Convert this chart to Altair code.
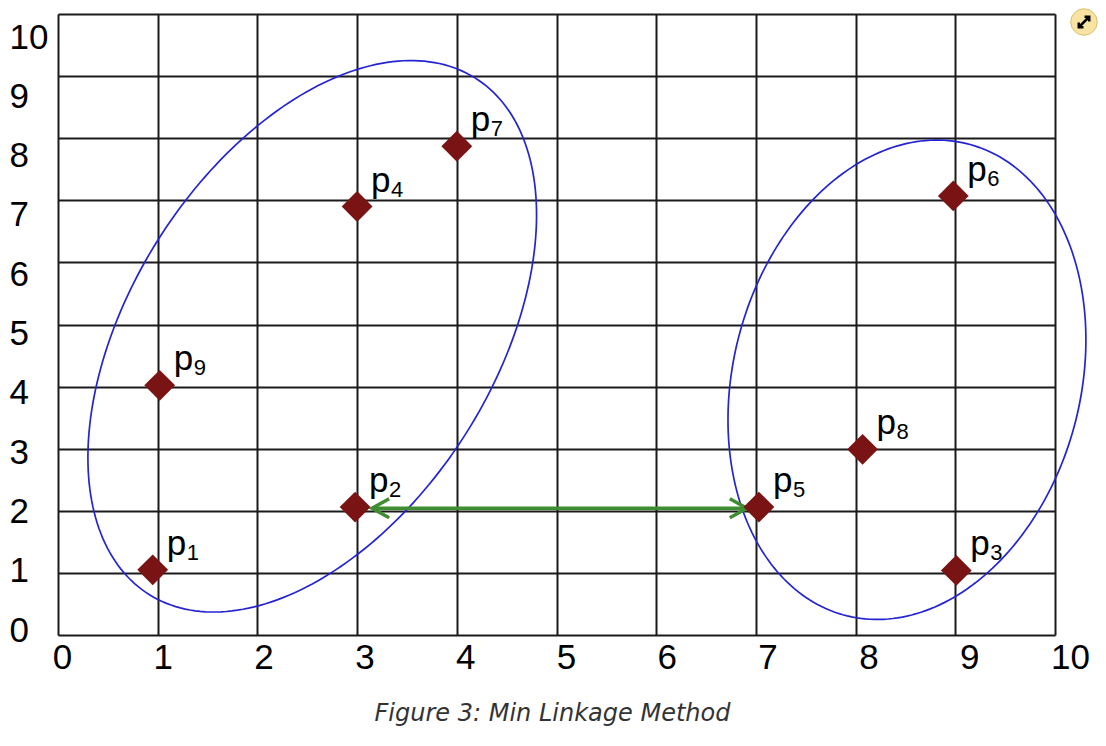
import altair as alt
import numpy as np
import pandas as pd

# ---- data ----
names = ["p1", "p2", "p3", "p4", "p5", "p6", "p7", "p8", "p9"]
subs = ["1", "2", "3", "4", "5", "6", "7", "8", "9"]
px = [0.95, 2.98, 9.01, 3.00, 7.03, 8.98, 4.00, 8.07, 1.02]
py = [1.05, 2.06, 1.04, 6.90, 2.06, 7.07, 7.87, 2.99, 4.02]

# cluster outlines: centre, half-extent along x / y, and tilt (cos of phase)
ell_group = ["A", "B"]
ell_cx = [2.55, 8.515]
ell_cy = [4.81, 4.11]
ell_rx = [2.25, 1.795]
ell_ry = [4.44, 3.86]
ell_cos = [0.44, 0.167]

# min-linkage arrow between p2 and p5
arrow_x = [3.15, 6.91]
arrow_y = [2.04, 2.04]

ticks = list(range(11))
caption = "Figure 3: Min Linkage Method"

# ---- tables ----
pts_df = pd.DataFrame({"x": px, "y": py, "name": names, "s": subs})
rows = []
t = np.linspace(0, 2 * np.pi, 241)
for g, cx, cy, rx, ry, c in zip(ell_group, ell_cx, ell_cy, ell_rx, ell_ry, ell_cos):
    phi = np.arccos(c)
    for k, tt in enumerate(t):
        rows.append({"g": g, "t": k, "x": cx + rx * np.cos(tt), "y": cy + ry * np.cos(tt - phi)})
ell_df = pd.DataFrame(rows)
arrow_df = pd.DataFrame({"x": arrow_x, "y": arrow_y})
left_head = pd.DataFrame({"x": arrow_x[:1], "y": arrow_y[:1]})
right_head = pd.DataFrame({"x": arrow_x[1:], "y": arrow_y[1:]})
tick_df = pd.DataFrame({"t": ticks})

FONT = "Liberation Sans"
GREEN = "#3e8e31"

xs = alt.Scale(domain=[0, 10], nice=False, zero=False)
ys = alt.Scale(domain=[0, 10], nice=False, zero=False)
grid_axis = alt.Axis(values=ticks, grid=True, gridColor="#1b1b1b", gridWidth=2,
                     gridOpacity=1, labels=False, ticks=False, domain=False, title=None)


def X(f):
    return alt.X(f, type="quantitative", scale=xs, axis=grid_axis)


def Y(f):
    return alt.Y(f, type="quantitative", scale=ys, axis=grid_axis)


ell = alt.Chart(ell_df).mark_line(color="#2424d2", strokeWidth=1.7).encode(
    x=X("x"), y=Y("y"), detail="g:N", order="t:Q")

shaft = alt.Chart(arrow_df).mark_line(color=GREEN, strokeWidth=3.5).encode(x=X("x"), y=Y("y"))
lh = alt.Chart(left_head).mark_point(shape="M1.8,-1L0,0L1.8,1", filled=False, stroke=GREEN,
                                      strokeWidth=3.5, size=361, opacity=1).encode(x=X("x"), y=Y("y"))
rh = alt.Chart(right_head).mark_point(shape="M-1.8,-1L0,0L-1.8,1", filled=False, stroke=GREEN,
                                       strokeWidth=3.5, size=361, opacity=1).encode(x=X("x"), y=Y("y"))

pts = alt.Chart(pts_df).mark_point(shape="diamond", filled=True, fill="#7a1414", size=950,
                                   opacity=1, strokeWidth=0).encode(x=X("x"), y=Y("y"))
ptxt = alt.Chart(pts_df).mark_text(text="p", align="left", baseline="alphabetic", dx=14, dy=-15,
                                   fontSize=35, font=FONT, color="black").encode(x=X("x"), y=Y("y"))
stxt = alt.Chart(pts_df).mark_text(align="left", baseline="alphabetic", dx=34, dy=-10,
                                   fontSize=22, font=FONT, color="black").encode(
    x=X("x"), y=Y("y"), text="s:N")

icon_df = pd.DataFrame({"a": [0]})
icon_bg = alt.Chart(icon_df).mark_point(shape="circle", filled=True, fill="#f8e3a3", stroke="#dcc06a",
                                        strokeWidth=1, size=700, opacity=1).encode(
    x=alt.value(1026), y=alt.value(8))
icon_fg = alt.Chart(icon_df).mark_point(shape="M-1,1L1,-1M0.1,-1L1,-1L1,-0.1M-1,0.1L-1,1L-0.1,1",
                                        filled=False, stroke="black", strokeWidth=2.5, size=110,
                                        opacity=1).encode(x=alt.value(1026), y=alt.value(8))

inner = alt.layer(ell, shaft, lh, rh, pts, ptxt, stxt, icon_bg, icon_fg)

lab_common = dict(values=ticks, grid=False, domain=False, ticks=False, tickSize=0,
                  labelFontSize=35, labelFont=FONT, labelColor="black", labelFlush=False,
                  labelOverlap=False, labelBound=False, title=None, format="d")
labels = alt.Chart(tick_df).mark_point(opacity=0).encode(
    x=alt.X("t:Q", scale=alt.Scale(domain=[0, 10], range=[4, 1012], nice=False, zero=False),
            axis=alt.Axis(orient="bottom", labelPadding=5, labelBaseline="top", **lab_common)),
    y=alt.Y("t:Q", scale=alt.Scale(domain=[0, 10], range=[616, 23], nice=False, zero=False),
            axis=alt.Axis(orient="left", labelPadding=49, labelAlign="left", labelBaseline="middle",
                          **lab_common)),
)

chart = alt.layer(inner, labels).resolve_scale(x="independent", y="independent").properties(
    width=997, height=621,
    padding={"left": 50, "top": 6, "right": 43, "bottom": 93},
    autosize=alt.AutoSizeParams(type="none"),
    title=alt.TitleParams(caption, orient="bottom", anchor="middle", font="DejaVu Sans",
                          fontStyle="italic", fontWeight="normal", fontSize=24, color="#333333",
                          offset=27, dx=-4),
).configure_view(stroke=None).configure(background="white")

chart.save("out.html", embed_options={"renderer": "svg", "actions": False})
